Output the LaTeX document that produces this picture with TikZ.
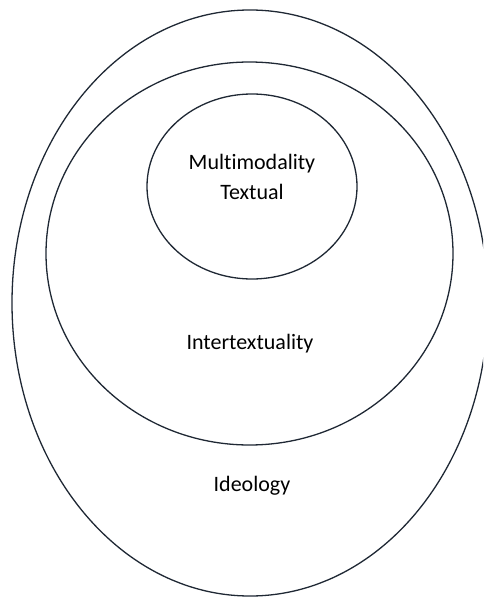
\documentclass[tikz,border=0pt]{standalone}
\usepackage{fontspec}
\setmainfont{Carlito}[RawFeature={-liga,-clig}]
\usepackage{xcolor}
\usetikzlibrary{shapes.geometric}

\definecolor{ringline}{RGB}{31,40,52}

\begin{document}
\begin{tikzpicture}[x=1pt, y=-1pt,
  ring/.style={draw=ringline, line width=1.3pt, ellipse, inner sep=0pt},
  lbl/.style={inner sep=0pt, align=center, font=\fontsize{22}{30}\selectfont}]
\useasboundingbox (0,0) rectangle (483,599);
\clip (0,0) rectangle (483,599);
\node[ring, minimum width=476pt, minimum height=586pt] (ideology) at (250,303) {};
\node[ring, minimum width=407pt, minimum height=383pt] (intertextuality) at (249.5,253.5) {};
\node[ring, minimum width=210pt, minimum height=185pt] (textual) at (252,186.5) {};
\node[lbl] (textuallbl) at (252,176.5) {Multimodality\\ Textual};
\node[lbl, anchor=base] (intertextlbl) at (250,349) {Intertextuality};
\node[lbl, anchor=base] (ideologylbl) at (252,491) {Ideology};
\end{tikzpicture}
\end{document}
